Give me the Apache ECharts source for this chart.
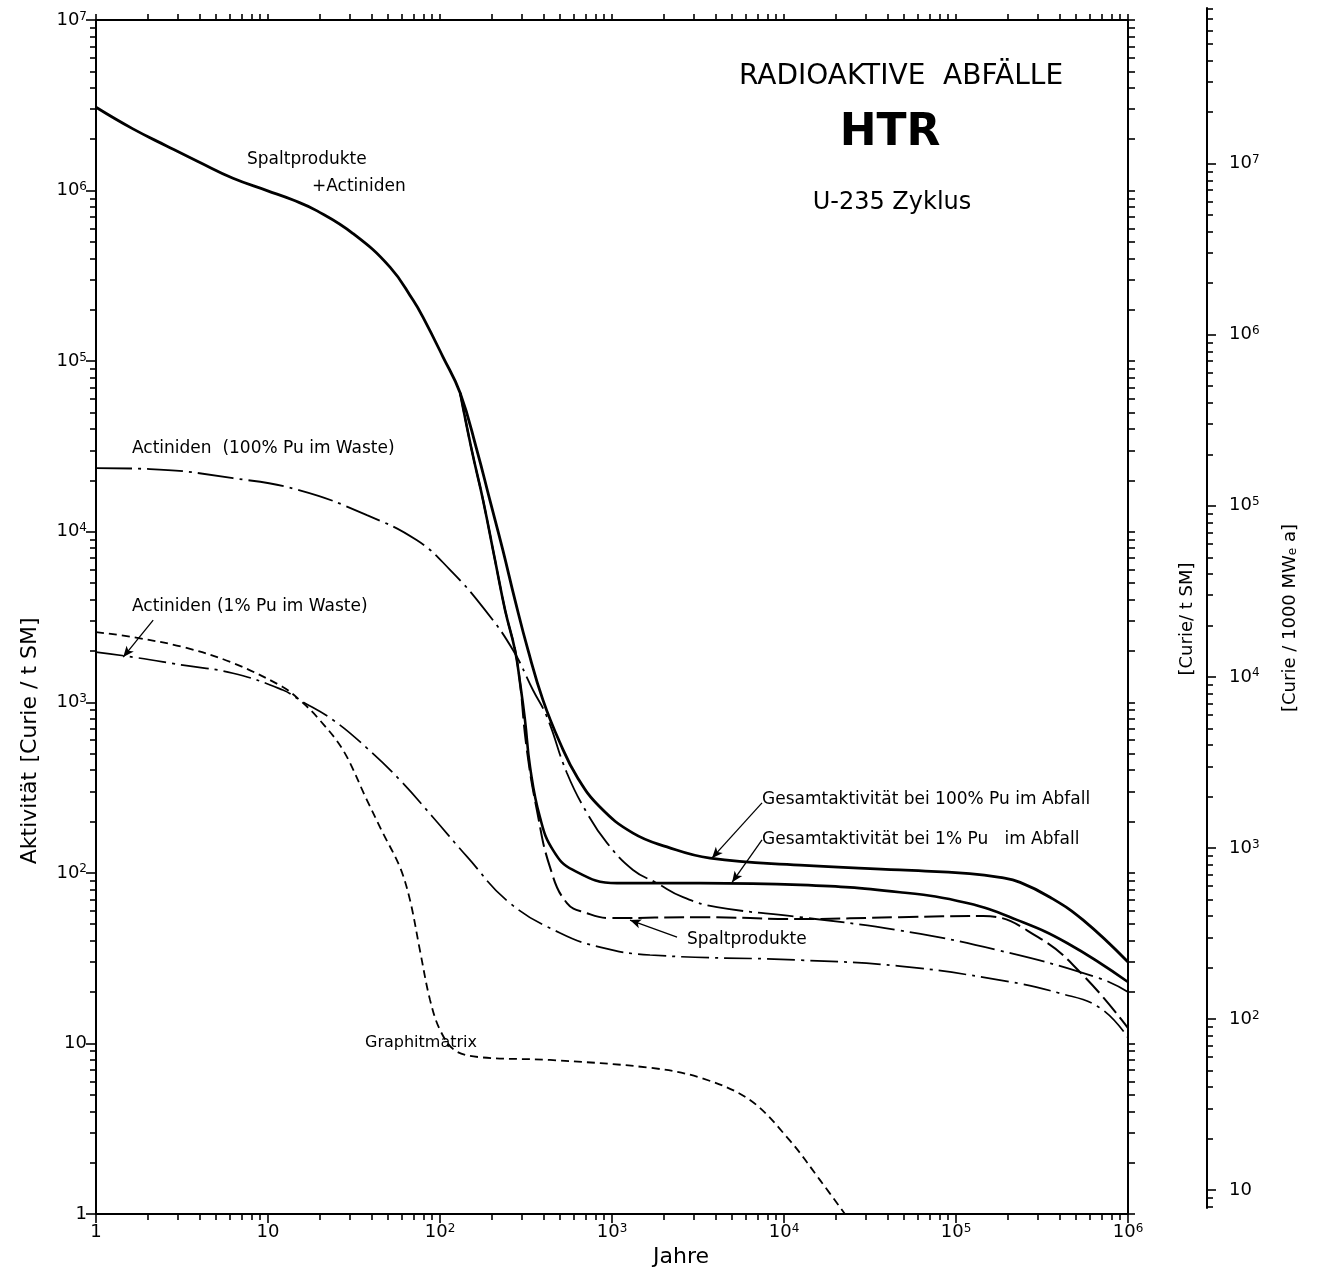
<!DOCTYPE html>
<html><head><meta charset="utf-8">
<script src="https://cdn.jsdelivr.net/npm/echarts@6.0.0/dist/echarts.min.js"></script>
<style>html,body{margin:0;padding:0;background:#fff}#c{width:1323px;height:1271px}</style>
</head><body><div id="c"></div>
<script>
const FONT = 'DejaVu Sans';

// ---- data (years, Curie / t SM) ----
// shared upper curve "Spaltprodukte + Actiniden"
const topT = [1, 1.64, 2.59, 4.02, 6.26, 9.87, 14, 19.3, 31.2, 51.2, 69.7, 79.6, 104, 131];
const topV = [3.08e6, 2.30e6, 1.82e6, 1.46e6, 1.18e6, 1.0e6, 8.8e5, 7.6e5, 5.6e5, 3.56e5, 2.28e5, 1.81e5, 1.06e5, 6.5e4];

// branches after the split (first point = end of shared curve)
const g100T = [131, 164, 195, 232, 273, 325, 397, 499, 627, 851, 1325, 2089, 3715, 12400, 47200, 120000, 180000, 236000, 352000, 547000, 1e6];
const g100V = [6.5e4, 3.0e4, 1.53e4, 7.8e3, 3.97e3, 2.02e3, 1.03e3, 577, 365, 243, 171, 142, 122, 111, 104, 99, 94, 88, 72, 53, 30];

const g1T = [131, 153, 178, 209, 239, 273, 292, 312, 334, 381, 454, 593, 1069, 3250, 12400, 47200, 116000, 226000, 442000, 1e6];
const g1V = [6.5e4, 3.0e4, 1.53e4, 6.8e3, 3.47e3, 2.02e3, 1.30e3, 787, 417, 212, 136, 104, 87, 87, 85, 77, 66.5, 53, 38.8, 22.9];

const spT = [131, 153, 178, 209, 239, 280, 320, 366, 436, 547, 716, 974, 3250, 12400, 47000, 144000, 300000, 550000, 1e6];
const spV = [6.5e4, 3.0e4, 1.53e4, 6.8e3, 3.47e3, 1.77e3, 525, 233, 108, 66.5, 58, 54.3, 55, 53.6, 55, 55.8, 42, 25, 12.3];

const act100T = [1, 2.06, 6.26, 15.3, 37.6, 73.5, 114, 183, 266, 347, 419, 547, 716, 935, 1325, 1827, 2588, 4078, 12400, 47000, 180000, 690000, 1e6];
const act100V = [2.36e4, 2.33e4, 2.06e4, 1.75e4, 1.25e4, 8.9e3, 6.0e3, 3.47e3, 2.02e3, 1.18e3, 819, 385, 224, 150, 104, 87, 72, 63, 55, 46, 35, 24, 20];

const act1T = [1, 1.64, 3.2, 6.26, 12.2, 15.3, 23.9, 37.6, 58.5, 91, 144, 255, 499, 851, 1663, 12400, 47000, 180000, 400000, 690000, 1e6];
const act1V = [1.97e3, 1.84e3, 1.65e3, 1.48e3, 1.18e3, 1.03e3, 787, 539, 350, 212, 124, 66.5, 44.4, 36.7, 33, 30.8, 28.4, 23.5, 19.7, 16.1, 10.8];

const graphT = [1, 1.64, 3.2, 6.26, 12.2, 15.3, 19.3, 27.3, 37.6, 46.6, 58.5, 67, 76.5, 87.5, 100, 122, 171, 436, 1663, 3250, 6340, 10800, 16200, 22600];
const graphV = [2.58e3, 2.41e3, 2.11e3, 1.70e3, 1.23e3, 1.03e3, 819, 525, 267, 171, 108, 69, 35, 18, 12, 9.1, 8.3, 8.0, 7.2, 6.3, 4.66, 2.7, 1.58, 1];

// leader arrows: [from, to] in (years, Curie/t SM)
const arrowAct1 = [[2.15, 3030], [1.44, 1840]];
const arrowG100 = [[7450, 257], [3810, 122]];
const arrowG1 = [[7450, 156], [4990, 88]];
const arrowSP = [[2388, 42], [1273, 52.9]];

// axis tick values
const xMajor = [1, 10, 100, 1e3, 1e4, 1e5, 1e6];
const yMajor = [1, 10, 100, 1e3, 1e4, 1e5, 1e6, 1e7];
const y2Major = [10, 100, 1e3, 1e4, 1e5, 1e6, 1e7];
const Y2_MIN = 7.85, Y2_MAX = 8.13e7;

function minorTicks(lo, hi) {
  const out = [];
  for (let k = -1; k <= 8; k++) for (let m = 2; m <= 9; m++) {
    const v = m * Math.pow(10, k);
    if (v >= lo && v <= hi) out.push(v);
  }
  return out;
}
function allTicks(lo, hi, majors) { return majors.concat(minorTicks(lo, hi)); }
const zip = (t, v) => t.map((x, i) => [x, v[i]]);

function powLabel(v) {
  const e = Math.round(Math.log10(v));
  if (e === 0) return '{n|1}';
  if (e === 1) return '{n|10}';
  return '{n|10}{s|' + e + '}';
}
const rich = {
  n: { fontFamily: FONT, fontSize: 18, color: '#000' },
  s: { fontFamily: FONT, fontSize: 12, color: '#000', verticalAlign: 'top', padding: [0, 0, 7, 0] }
};

function tickAxis(base, extra) { return Object.assign({}, base, extra); }

const xBase = { gridIndex: 0, type: 'log', logBase: 10, min: 1, max: 1e6, splitLine: { show: false }, minorTick: { show: false } };
const yBase = { gridIndex: 0, type: 'log', logBase: 10, min: 1, max: 1e7, splitLine: { show: false }, minorTick: { show: false } };
const y2Base = { gridIndex: 1, type: 'log', logBase: 10, min: Y2_MIN, max: Y2_MAX, splitLine: { show: false }, minorTick: { show: false } };

const lineAx = { show: true, onZero: false, lineStyle: { color: '#000', width: 2 } };
const noLine = { show: false, onZero: false };
const tickStyle = { color: '#000', width: 1.6 };

function arrowML(a) {
  return {
    silent: true, symbol: ['none', 'arrow'], symbolSize: [7, 11], label: { show: false },
    lineStyle: { color: '#000', width: 1.3, type: 'solid' }, emphasis: { disabled: true },
    data: [[{ coord: a[0] }, { coord: a[1] }]]
  };
}
function lineSeries(name, data, width, type, extra) {
  return Object.assign({
    name, type: 'line', xAxisIndex: 0, yAxisIndex: 0, data, symbol: 'none', showSymbol: false,
    smooth: 0.45, silent: true, lineStyle: { color: '#000', width, type, cap: 'butt' }, z: 3
  }, extra || {});
}

// total activity (100% Pu) drawn as one continuous curve: shared part + branch
const g100Full = zip(topT, topV).concat(zip(g100T, g100V).slice(1));

const option = {
  animation: false,
  backgroundColor: '#fff',
  grid: [
    { left: 96, top: 20, width: 1032, height: 1194 },
    { left: 1206, top: 8, width: 1, height: 1200 }
  ],
  xAxis: [
    tickAxis(xBase, { position: 'bottom', axisLine: lineAx,
      axisTick: { show: true, length: 9, lineStyle: tickStyle, customValues: xMajor },
      axisLabel: { show: true, customValues: xMajor, formatter: powLabel, rich, margin: 9 } }),
    tickAxis(xBase, { position: 'bottom', axisLine: noLine,
      axisTick: { show: true, length: 6, lineStyle: tickStyle, customValues: minorTicks(1, 1e6) },
      axisLabel: { show: false } }),
    tickAxis(xBase, { position: 'top', axisLine: lineAx,
      axisTick: { show: true, length: 6, lineStyle: tickStyle, customValues: allTicks(1, 1e6, xMajor) },
      axisLabel: { show: false } }),
    { gridIndex: 1, type: 'value', min: 0, max: 1, show: false }
  ],
  yAxis: [
    tickAxis(yBase, { position: 'left', axisLine: lineAx,
      axisTick: { show: true, length: 10, lineStyle: tickStyle, customValues: yMajor },
      axisLabel: { show: true, customValues: yMajor, formatter: powLabel, rich, margin: 9 } }),
    tickAxis(yBase, { position: 'left', axisLine: noLine,
      axisTick: { show: true, length: 6, lineStyle: tickStyle, customValues: minorTicks(1, 1e7) },
      axisLabel: { show: false } }),
    tickAxis(yBase, { position: 'right', axisLine: lineAx,
      axisTick: { show: true, length: 7, lineStyle: tickStyle, customValues: allTicks(1, 1e7, yMajor) },
      axisLabel: { show: false } }),
    tickAxis(y2Base, { position: 'right', axisLine: lineAx,
      axisTick: { show: true, length: 9, lineStyle: tickStyle, customValues: y2Major },
      axisLabel: { show: true, customValues: y2Major, formatter: powLabel, rich, margin: 22 } }),
    tickAxis(y2Base, { position: 'right', axisLine: noLine,
      axisTick: { show: true, length: 6, lineStyle: tickStyle, customValues: minorTicks(Y2_MIN, Y2_MAX) },
      axisLabel: { show: false } })
  ],
  series: [
    lineSeries('Gesamtaktivität bei 100% Pu im Abfall', g100Full, 2.8, 'solid', { markLine: arrowML(arrowG100), z: 4 }),
    lineSeries('Gesamtaktivität bei 1% Pu im Abfall', zip(g1T, g1V), 2.6, 'solid', { markLine: arrowML(arrowG1) }),
    lineSeries('Spaltprodukte', zip(spT, spV), 2.0, [20, 6], { markLine: arrowML(arrowSP) }),
    lineSeries('Actiniden (100% Pu im Waste)', zip(act100T, act100V), 1.8, [36, 6, 3, 6]),
    lineSeries('Actiniden (1% Pu im Waste)', zip(act1T, act1V), 1.7, [28, 6, 3, 6], { markLine: arrowML(arrowAct1) }),
    lineSeries('Graphitmatrix', zip(graphT, graphV), 1.8, [8, 5], { smooth: 0.35 })
  ],
  graphic: [
    { type: 'text', x: 901, y: 77, style: { text: 'RADIOAKTIVE  ABFÄLLE', font: '28px "DejaVu Sans"', fill: '#000', textAlign: 'center', textVerticalAlign: 'middle' } },
    { type: 'text', x: 890, y: 134, style: { text: 'HTR', font: 'bold 44px "DejaVu Sans"', fill: '#000', textAlign: 'center', textVerticalAlign: 'middle' } },
    { type: 'text', x: 892, y: 203, style: { text: 'U-235 Zyklus', font: '24px "DejaVu Sans"', fill: '#000', textAlign: 'center', textVerticalAlign: 'middle' } },
    { type: 'text', x: 247, y: 160, style: { text: 'Spaltprodukte', font: '17px "DejaVu Sans"', fill: '#000', textVerticalAlign: 'middle' } },
    { type: 'text', x: 312, y: 187, style: { text: '+Actiniden', font: '17px "DejaVu Sans"', fill: '#000', textVerticalAlign: 'middle' } },
    { type: 'text', x: 132, y: 449, style: { text: 'Actiniden  (100% Pu im Waste)', font: '17px "DejaVu Sans"', fill: '#000', textVerticalAlign: 'middle' } },
    { type: 'text', x: 132, y: 607, style: { text: 'Actiniden (1% Pu im Waste)', font: '17px "DejaVu Sans"', fill: '#000', textVerticalAlign: 'middle' } },
    { type: 'text', x: 762, y: 800, style: { text: 'Gesamtaktivität bei 100% Pu im Abfall', font: '17px "DejaVu Sans"', fill: '#000', textVerticalAlign: 'middle' } },
    { type: 'text', x: 762, y: 840, style: { text: 'Gesamtaktivität bei 1% Pu   im Abfall', font: '17px "DejaVu Sans"', fill: '#000', textVerticalAlign: 'middle' } },
    { type: 'text', x: 687, y: 940, style: { text: 'Spaltprodukte', font: '17px "DejaVu Sans"', fill: '#000', textVerticalAlign: 'middle' } },
    { type: 'text', x: 365, y: 1043, style: { text: 'Graphitmatrix', font: '16px "DejaVu Sans"', fill: '#000', textVerticalAlign: 'middle' } },
    { type: 'text', x: 681, y: 1257, style: { text: 'Jahre', font: '22px "DejaVu Sans"', fill: '#000', textAlign: 'center', textVerticalAlign: 'middle' } },
    { type: 'text', x: 30, y: 818, rotation: Math.PI / 2, style: { text: 'Aktivität', font: '22px "DejaVu Sans"', fill: '#000', textAlign: 'center', textVerticalAlign: 'middle' } },
    { type: 'text', x: 30, y: 690, rotation: Math.PI / 2, style: { text: '[Curie / t SM]', font: '22px "DejaVu Sans"', fill: '#000', textAlign: 'center', textVerticalAlign: 'middle' } },
    { type: 'text', x: 1187, y: 619, rotation: Math.PI / 2, style: { text: '[Curie/ t SM]', font: '18px "DejaVu Sans"', fill: '#000', textAlign: 'center', textVerticalAlign: 'middle' } },
    { type: 'text', x: 1290, y: 618, rotation: Math.PI / 2, style: {
        text: '{n|[Curie / 1000 MW}{e|e}{n| a]}', textAlign: 'center', textVerticalAlign: 'middle',
        rich: { n: { fontFamily: FONT, fontSize: 18, color: '#000' }, e: { fontFamily: FONT, fontSize: 12, color: '#000', verticalAlign: 'bottom' } } } }
  ]
};

const chart = echarts.init(document.getElementById('c'), null, { renderer: 'canvas' });
chart.setOption(option);
</script>
</body></html>
